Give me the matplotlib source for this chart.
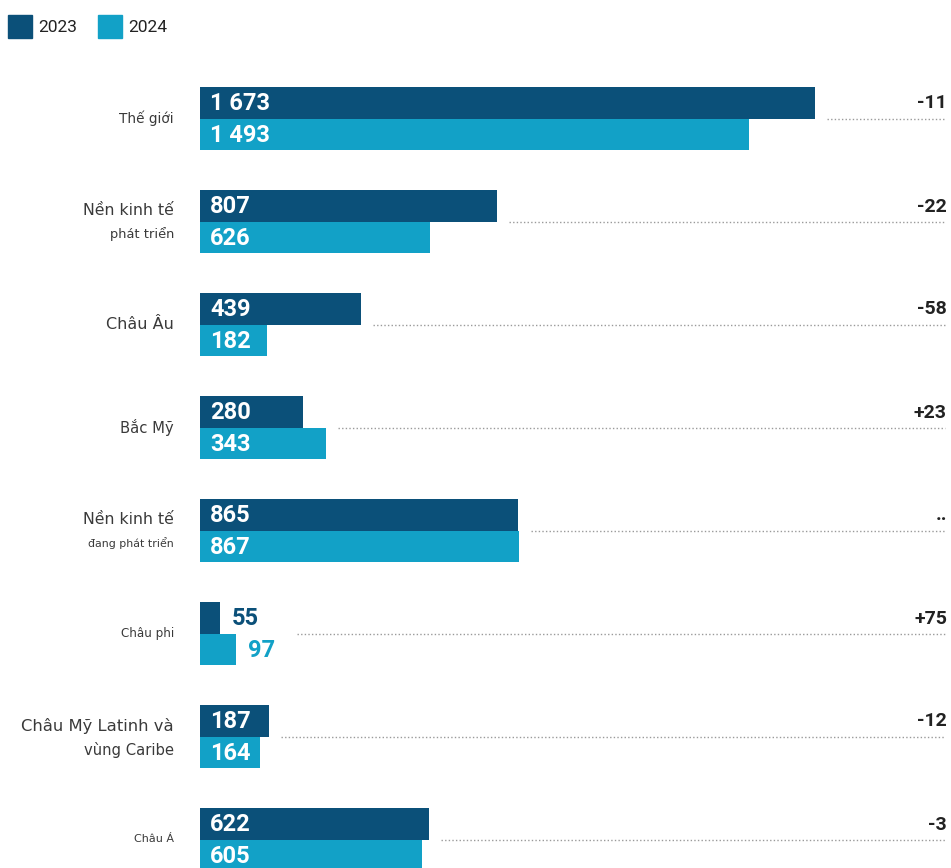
import matplotlib.pyplot as plt

# FDI inflows by region, 2023 vs 2024 (billion USD) and % change
regions = [
    ("Thế giới", None),
    ("Nền kinh tế", "phát triển"),
    ("Châu Âu", None),
    ("Bắc Mỹ", None),
    ("Nền kinh tế", "đang phát triển"),
    ("Châu phi", None),
    ("Châu Mỹ Latinh và", "vùng Caribe"),
    ("Châu Á", None),
]
values_2023 = [1673, 807, 439, 280, 865, 55, 187, 622]
values_2024 = [1493, 626, 182, 343, 867, 97, 164, 605]
labels_2023 = ["1 673", "807", "439", "280", "865", "55", "187", "622"]
labels_2024 = ["1 493", "626", "182", "343", "867", "97", "164", "605"]
changes = ["-11", "-22", "-58", "+23", "..", "+75", "-12", "-3"]

# label font sizes (main line, second line)
label_sizes = [(9.8, None), (11.3, 9.4), (11.5, None), (10.6, None),
               (11.3, 7.9), (8.6, None), (11.8, 10.6), (8.0, None)]

DARK = "#0b5079"
LIGHT = "#12a1c7"
TEXT = "#3a3a3a"
NUM_FONT = "Roboto"

plt.rcParams["font.family"] = ["DejaVu Sans"]

W, H = 951, 868
fig = plt.figure(figsize=(W / 100, H / 100), dpi=100)
ax = fig.add_axes([0, 0, 1, 1])
ax.axis("off")

PX = 0.3676          # pixels per unit
X0 = 200             # pixel column of the zero line
ax.set_xlim(-X0 / PX, (W - X0) / PX)
ax.set_ylim(H, 0)    # y axis in pixels, top down

GROUP_TOP = 87
GROUP_STEP = 103
BAR_H = 31.5

def px(n):
    return n / PX

fig.canvas.draw()
renderer = fig.canvas.get_renderer()

for i, (name, sub) in enumerate(regions):
    top = GROUP_TOP + i * GROUP_STEP
    y1 = top + BAR_H / 2
    y2 = top + BAR_H * 1.5
    mid = top + BAR_H
    ax.barh(y1, values_2023[i], height=BAR_H, color=DARK, left=0)
    ax.barh(y2, values_2024[i], height=BAR_H, color=LIGHT, left=0)

    line_start = max(values_2023[i], values_2024[i]) + px(12)
    for y, v, lab, col in ((y1, values_2023[i], labels_2023[i], DARK),
                           (y2, values_2024[i], labels_2024[i], LIGHT)):
        # short bars get their value printed outside, in the bar colour
        if v > px(10 + 14 * len(lab)):
            ax.text(px(10), y + 1, lab, color="white", fontsize=17,
                    fontweight="bold", family=NUM_FONT, va="center", ha="left")
        else:
            t = ax.text(v + px(12), y + 1, lab, color=col, fontsize=17,
                        fontweight="bold", family=NUM_FONT, va="center", ha="left")
            bb = t.get_window_extent(renderer)
            end = ax.transData.inverted().transform((bb.x1, 0))[0]
            line_start = max(line_start, end + px(22))

    # region label to the left of the bars
    main_size, sub_size = label_sizes[i]
    if sub is None:
        ax.text(px(-26), mid, name, fontsize=main_size, color=TEXT,
                ha="right", va="center")
    else:
        ax.text(px(-26), mid - 11, name, fontsize=main_size, color=TEXT,
                ha="right", va="center")
        ax.text(px(-26), mid + 13, sub, fontsize=sub_size, color=TEXT,
                ha="right", va="center")

    # dotted leader and percentage change
    ax.plot([line_start, px(W - X0 - 6)], [mid, mid], color="#9a9a9a",
            lw=1, ls=(0, (1, 1.6)))
    ax.text(px(W - X0 - 4), mid - 15, changes[i], fontsize=14,
            fontweight="bold", family=NUM_FONT, color="#222222",
            ha="right", va="center")

# legend
for x, col, lab in ((8, DARK, "2023"), (98, LIGHT, "2024")):
    ax.add_patch(plt.Rectangle((px(x - X0), 15), px(24), 23, color=col,
                               transform=ax.transData, clip_on=False))
    ax.text(px(x - X0 + 30), 27, lab, fontsize=12.5, family=NUM_FONT,
            color="#222222", ha="left", va="center")

fig.savefig("out.png", dpi=100)
